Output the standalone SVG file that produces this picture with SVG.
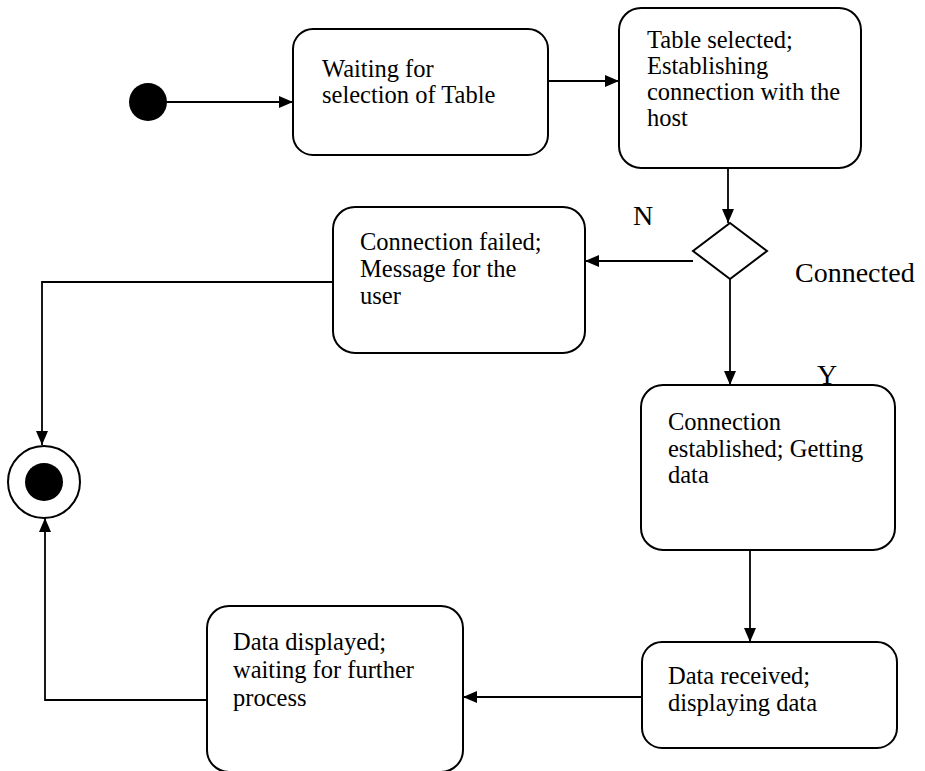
<svg xmlns="http://www.w3.org/2000/svg" width="925" height="771" viewBox="0 0 925 771">
  <defs>
    <marker id="arrow" viewBox="0 0 14 12" refX="14" refY="6" markerWidth="14" markerHeight="12" markerUnits="userSpaceOnUse" orient="auto">
      <path d="M0,0 L14,6 L0,12 Z" fill="#000"/>
    </marker>
    <style>
      .state { fill: #fff; stroke: #000; stroke-width: 2; }
      .label { font-family: "Liberation Serif", "Times New Roman", serif; font-size: 24.5px; fill: #000; }
      .guard { font-family: "Liberation Serif", "Times New Roman", serif; font-size: 28px; fill: #000; }
      .edge { fill: none; stroke: #000; stroke-width: 1.8; }
    </style>
  </defs>
  <rect width="925" height="771" fill="#fff"/>

  <!-- connectors -->
  <g id="connectors">
    <path class="edge" d="M167,102 H293" marker-end="url(#arrow)"/>
    <path class="edge" d="M548,81 H619" marker-end="url(#arrow)"/>
    <path class="edge" d="M728,168 V223" marker-end="url(#arrow)"/>
    <path class="edge" d="M693,261 H585" marker-end="url(#arrow)"/>
    <path class="edge" d="M730,279 V385" marker-end="url(#arrow)"/>
    <path class="edge" d="M333,282 H42 V445" marker-end="url(#arrow)"/>
    <path class="edge" d="M750,550 V642" marker-end="url(#arrow)"/>
    <path class="edge" d="M642,697 H463" marker-end="url(#arrow)"/>
    <path class="edge" d="M207,700 H45 V518" marker-end="url(#arrow)"/>
  </g>

  <!-- initial pseudo-state -->
  <g id="start">
    <circle cx="148" cy="102" r="19" fill="#000"/>
  </g>

  <g id="waiting-selection">
    <rect class="state" x="293" y="29" width="255" height="126" rx="20"/>
    <text class="label" x="322" y="77">Waiting for</text>
    <text class="label" x="322" y="103">selection of Table</text>
  </g>

  <g id="table-selected">
    <rect class="state" x="619" y="8" width="242" height="160" rx="22"/>
    <text class="label" x="647" y="48">Table selected;</text>
    <text class="label" x="647" y="74">Establishing</text>
    <text class="label" x="647" y="100">connection with the</text>
    <text class="label" x="647" y="126">host</text>
  </g>

  <g id="connected-choice">
    <path d="M730,223 L767,251 L730,279 L693,251 Z" fill="#fff" stroke="#000" stroke-width="2"/>
    <text class="guard" x="633" y="225">N</text>
    <text class="guard" x="795" y="282">Connected</text>
    <text class="guard" x="817" y="384">Y</text>
  </g>

  <g id="connection-failed">
    <rect class="state" x="333" y="207" width="252" height="146" rx="22"/>
    <text class="label" x="360" y="250">Connection failed;</text>
    <text class="label" x="360" y="277">Message for the</text>
    <text class="label" x="360" y="304">user</text>
  </g>

  <g id="connection-established">
    <rect class="state" x="641" y="385" width="254" height="165" rx="22"/>
    <text class="label" x="668" y="430">Connection</text>
    <text class="label" x="668" y="457">established; Getting</text>
    <text class="label" x="668" y="483">data</text>
  </g>

  <g id="data-received">
    <rect class="state" x="642" y="642" width="255" height="106" rx="20"/>
    <text class="label" x="668" y="684">Data received;</text>
    <text class="label" x="668" y="711">displaying data</text>
  </g>

  <g id="data-displayed">
    <rect class="state" x="207" y="606" width="256" height="166" rx="22"/>
    <text class="label" x="233" y="650">Data displayed;</text>
    <text class="label" x="233" y="678">waiting for further</text>
    <text class="label" x="233" y="706">process</text>
  </g>

  <!-- final state -->
  <g id="end">
    <circle cx="44" cy="482" r="36" fill="#fff" stroke="#000" stroke-width="2"/>
    <circle cx="44" cy="482" r="19" fill="#000"/>
  </g>
</svg>
